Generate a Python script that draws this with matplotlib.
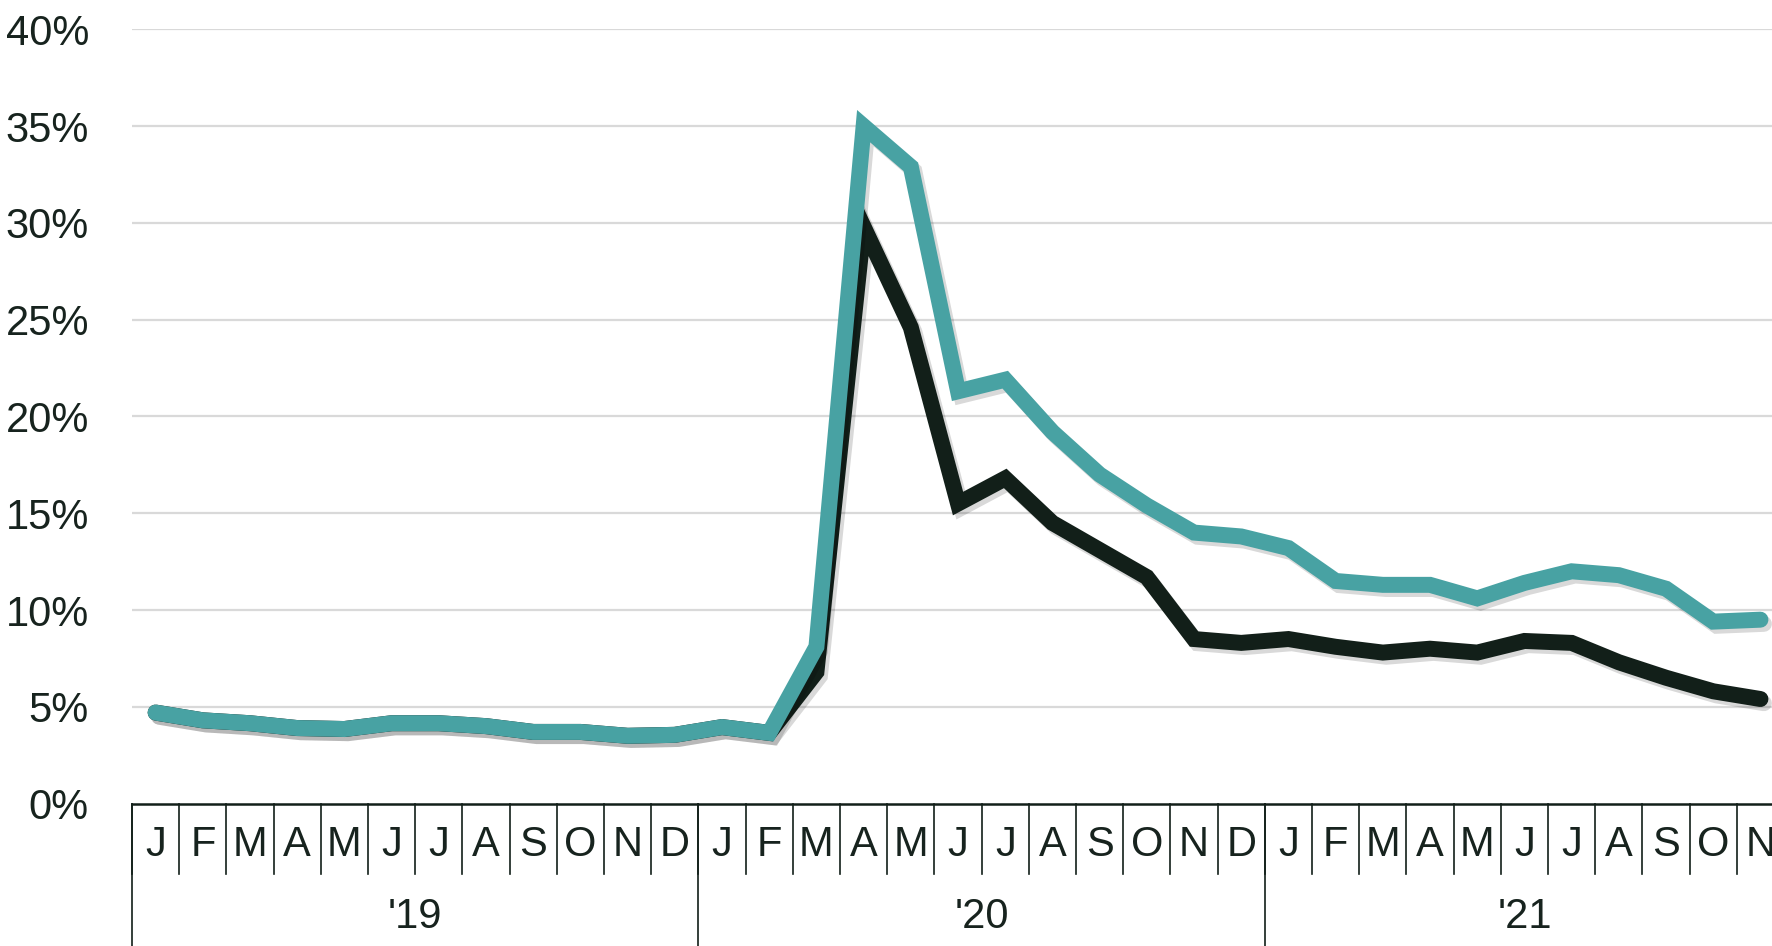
import matplotlib
matplotlib.use("Agg")
import matplotlib.pyplot as plt
import matplotlib.patheffects as pe
import numpy as np

plt.rcParams['font.family'] = ['Liberation Sans', 'DejaVu Sans']

months = ["J", "F", "M", "A", "M", "J", "J", "A", "S", "O", "N", "D",
          "J", "F", "M", "A", "M", "J", "J", "A", "S", "O", "N", "D",
          "J", "F", "M", "A", "M", "J", "J", "A", "S", "O", "N"]
years = ["'19", "'20", "'21"]
year_lengths = [12, 12, 11]

teal_values = [4.7, 4.3, 4.15, 3.9, 3.85, 4.15, 4.15, 4.0, 3.7, 3.7, 3.5, 3.55,
               3.95, 3.65, 8.1, 35.0, 32.9, 21.3, 21.9, 19.2, 17.0, 15.4, 14.0, 13.8,
               13.2, 11.5, 11.3, 11.3, 10.6, 11.4, 12.0, 11.8, 11.1, 9.4, 9.5]
dark_values = [4.7, 4.3, 4.15, 3.9, 3.85, 4.15, 4.15, 4.0, 3.7, 3.7, 3.5, 3.55,
               3.95, 3.65, 6.8, 29.8, 24.6, 15.5, 16.8, 14.5, 13.1, 11.7, 8.5, 8.3,
               8.5, 8.1, 7.8, 8.0, 7.8, 8.4, 8.3, 7.3, 6.5, 5.8, 5.4]

teal = "#48a2a3"
dark = "#121f19"
text_color = "#17231e"
fs = 30

fig = plt.figure(figsize=(17.72, 9.46), dpi=100)
ax = fig.add_axes([0.0745, 0.1506, 0.9323, 0.8183])

n = len(months)
x = np.arange(n) + 0.5
ax.set_xlim(0, n)
ax.set_ylim(0, 40)

shadow = [pe.SimpleLineShadow(offset=(2.5, -3), shadow_color="black", alpha=0.15), pe.Normal()]
ax.plot(x, dark_values, color=dark, lw=11.5, solid_capstyle="round", solid_joinstyle="miter",
        path_effects=shadow, zorder=3, clip_on=False)
ax.plot(x, teal_values, color=teal, lw=11.5, solid_capstyle="round", solid_joinstyle="miter",
        path_effects=shadow, zorder=4, clip_on=False)

for v in np.arange(5, 45, 5):
    ax.axhline(v, color="#d9d9d9", lw=1.6, zorder=1)
ax.set_yticks(np.arange(0, 45, 5))
ax.set_yticklabels([f"{v}%" for v in range(0, 45, 5)], fontsize=fs, color=text_color)
ax.tick_params(axis="y", length=0, pad=31)
ax.set_xticks([])
for s in ax.spines.values():
    s.set_visible(False)

trans = ax.get_xaxis_transform()
ax.plot([0, n], [0, 0], transform=trans, color=dark, lw=1.8, clip_on=False)
row1 = -0.0911
row2 = -0.184
for i, m in enumerate(months):
    ax.text(i + 0.5, -0.0536, m, transform=trans, ha="center", va="center",
            fontsize=fs, color=text_color)
    ax.plot([i, i], [0, row1], transform=trans, color=dark, lw=1.2, clip_on=False)
ax.plot([n, n], [0, row1], transform=trans, color=dark, lw=1.2, clip_on=False)
start = 0
for y, L in zip(years, year_lengths):
    ax.plot([start, start], [0, row2], transform=trans, color=dark, lw=1.2, clip_on=False)
    ax.text(start + L / 2, -0.1466, y, transform=trans, ha="center", va="center",
            fontsize=fs, color=text_color)
    start += L

fig.savefig("out.png", dpi=100, facecolor="white")
